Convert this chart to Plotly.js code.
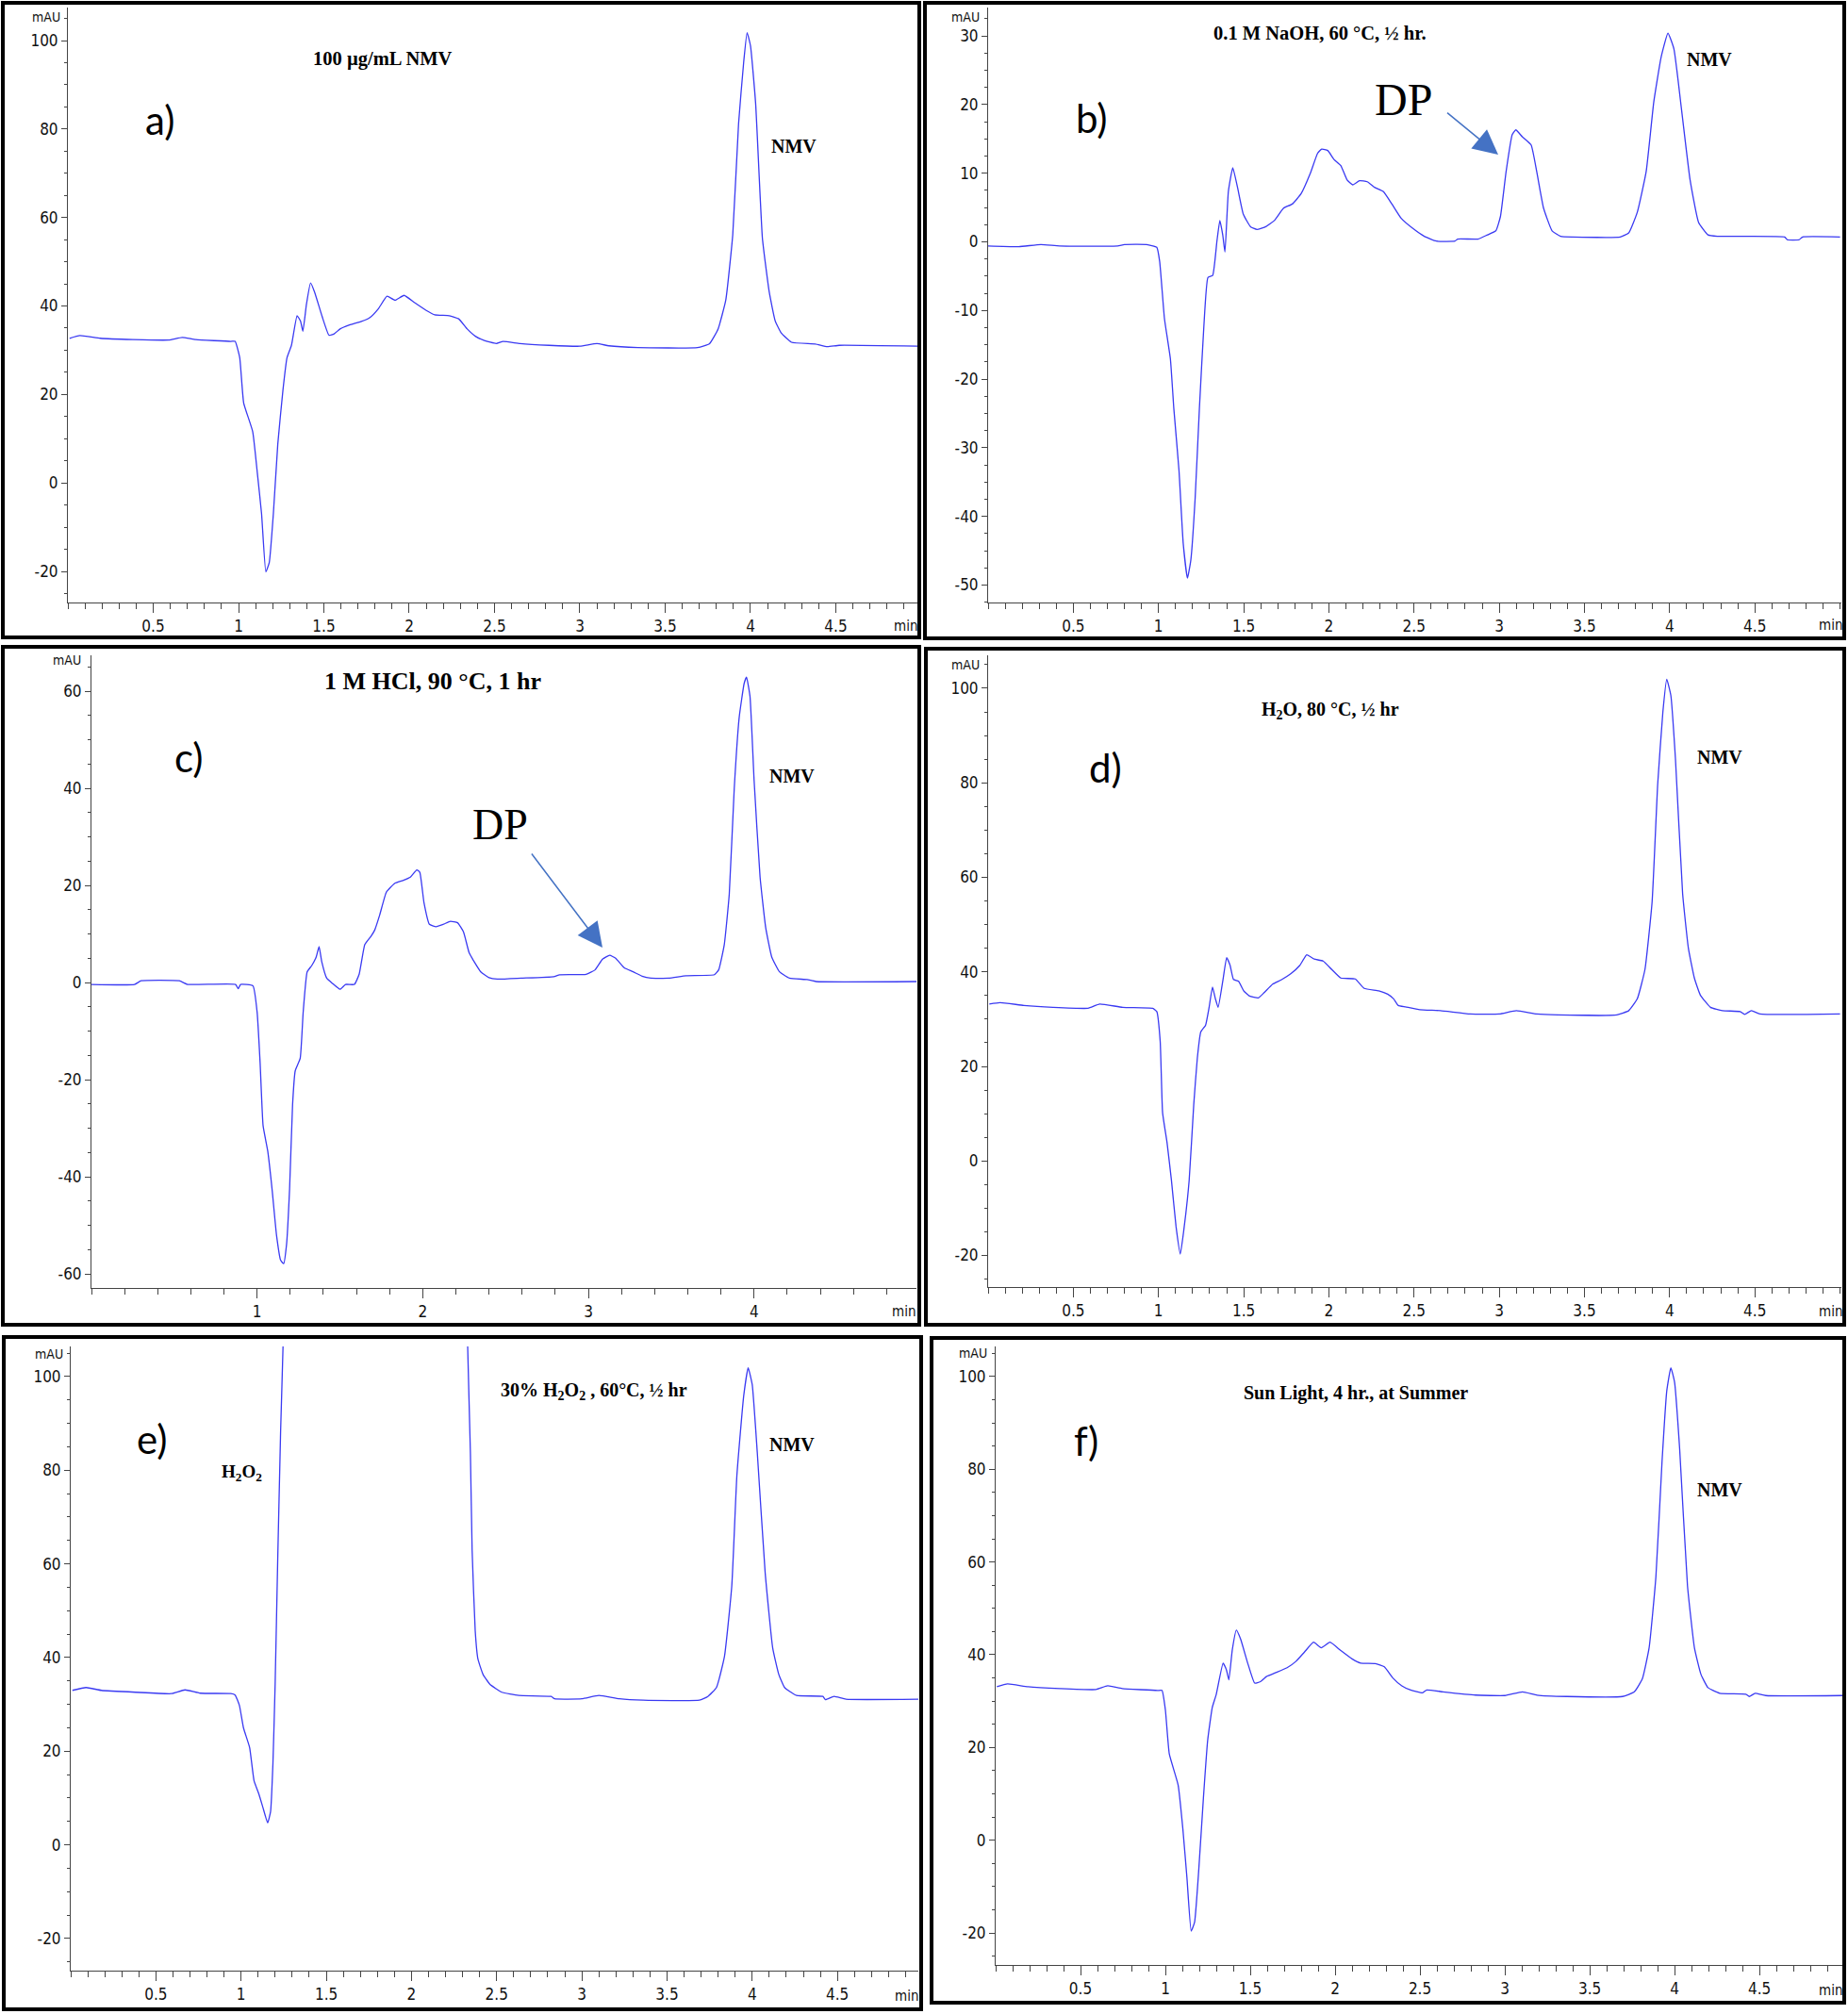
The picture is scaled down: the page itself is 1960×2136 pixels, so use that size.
<!DOCTYPE html>
<html><head><meta charset="utf-8">
<script src="https://cdn.plot.ly/plotly-3.0.1.min.js"></script>
<style>html,body{margin:0;padding:0;background:#fff}</style>
</head><body>
<div id="chart" style="width:1960px;height:2136px"></div>
<script>
// ---------------- data (retention time in min, signal in mAU) ----------------
const aTime = [0.01,0.07,0.19,0.38,0.59,0.67,0.75,0.955,0.98,1.007,
  1.03,1.083,1.11,1.135,1.16,1.18,1.204,1.23,1.26,1.284,
  1.31,1.343,1.363,1.377,1.398,1.422,1.446,1.49,1.53,1.56,
  1.595,1.65,1.72,1.77,1.82,1.87,1.917,1.97,2.03,2.10,
  2.15,2.235,2.29,2.34,2.39,2.44,2.51,2.55,2.65,2.82,
  3.0,3.10,3.17,3.34,3.69,3.76,3.81,3.855,3.896,3.93,
  3.96,3.98,4.0,4.03,4.07,4.11,4.145,4.18,4.24,4.38,
  4.45,4.52,4.98];
const aSignal = [32.7,33.3,32.7,32.4,32.3,32.9,32.4,32.0,32.0,28.3,
  18.1,11.6,2.3,-7,-20.1,-18,-7,8.8,20.9,28.3,
  31.1,37.8,36.6,34.3,40.4,45.2,43.1,37.6,33.4,33.7,
  34.8,35.7,36.5,37.4,39.4,42.2,41.3,42.4,40.8,39.0,
  38.0,37.8,37.1,34.8,33.1,32.2,31.5,32.0,31.5,31.1,
  30.9,31.5,31.0,30.6,30.6,31.5,34.8,41.3,56.1,81.2,
  95.1,101.8,98.8,85.8,55.2,43.1,36.6,33.9,31.8,31.4,
  30.8,31.1,30.9];

const bTime = [0.0,0.18,0.31,0.42,0.76,0.8,0.93,0.99,1.007,1.035,
  1.07,1.09,1.12,1.145,1.17,1.19,1.215,1.24,1.266,1.29,
  1.318,1.343,1.36,1.377,1.39,1.41,1.436,1.464,1.498,1.54,
  1.578,1.63,1.68,1.734,1.785,1.837,1.89,1.934,1.958,1.993,
  2.03,2.07,2.107,2.14,2.18,2.225,2.27,2.32,2.37,2.425,
  2.495,2.56,2.63,2.74,2.755,2.875,2.93,2.98,3.007,3.04,
  3.076,3.097,3.135,3.187,3.22,3.26,3.31,3.36,3.43,3.71,
  3.76,3.81,3.862,3.907,3.95,3.99,4.025,4.07,4.12,4.17,
  4.225,4.28,4.675,4.69,4.76,4.78,5.0];
const bSignal = [-0.6,-0.7,-0.4,-0.6,-0.6,-0.4,-0.4,-0.8,-2.9,-11.2,
  -17.1,-24.3,-33.2,-43.9,-49,-46.3,-37.4,-24.3,-12.4,-5.2,
  -4.9,0.1,3.1,1.0,-1.5,7.3,10.8,7.9,4.0,2.2,
  1.8,2.2,3.1,4.9,5.5,7.0,9.9,12.9,13.5,13.3,
  12.0,11.1,9.0,8.3,8.9,8.75,7.9,7.3,5.5,3.4,
  1.9,0.8,0.1,0.1,0.4,0.4,1.0,1.6,3.7,10.2,
  15.6,16.3,15.3,14.1,10.2,4.9,1.6,0.8,0.7,0.7,
  1.3,4.3,10.2,20.4,26.9,30.4,28.1,19.2,9.0,2.8,
  1.0,0.8,0.7,0.3,0.3,0.7,0.7];

const cTime = [0.0,0.26,0.3,0.53,0.58,0.87,0.886,0.9,0.975,1.0,
  1.018,1.036,1.064,1.09,1.117,1.142,1.16,1.178,1.196,1.214,
  1.23,1.26,1.278,1.302,1.33,1.356,1.374,1.39,1.42,1.455,
  1.5,1.534,1.587,1.616,1.65,1.687,1.71,1.74,1.78,1.83,
  1.88,1.925,1.964,1.982,2.007,2.04,2.08,2.125,2.167,2.21,
  2.246,2.28,2.31,2.35,2.4,2.45,2.594,2.79,2.826,2.986,
  3.04,3.085,3.128,3.164,3.217,3.27,3.324,3.377,3.484,3.59,
  3.76,3.786,3.82,3.85,3.88,3.91,3.94,3.954,3.975,4.0,
  4.036,4.07,4.107,4.153,4.213,4.32,4.374,4.98];
const cSignal = [-0.4,-0.4,0.35,0.35,-0.4,-0.4,-1.3,-0.4,-0.7,-6.1,
  -16.5,-29.5,-34.7,-42.5,-52,-57.2,-57.9,-53.8,-42.5,-25.2,
  -18.2,-15.6,-6.1,2.2,3.5,5.2,7.4,4.3,0.9,-0.2,
  -1.4,-0.4,-0.4,1.7,7.8,9.5,10.8,13.9,18.6,20.4,
  21.0,21.7,23.2,22.7,16.5,12.0,11.5,12.0,12.6,12.3,
  10.4,6.1,4.3,2.2,1.0,0.7,0.9,1.2,1.6,1.7,
  2.6,4.8,5.6,5.0,3.0,2.2,1.3,0.9,0.9,1.4,
  1.6,2.6,7.8,18.2,39.9,54.6,61.6,62.9,59.0,41.6,
  21.7,11.3,5.2,2.2,0.9,0.6,0.2,0.2];

const dTime = [0.007,0.07,0.21,0.38,0.586,0.655,0.79,0.966,0.99,1.01,
  1.024,1.05,1.076,1.103,1.128,1.148,1.18,1.207,1.228,1.248,
  1.276,1.297,1.317,1.334,1.35,1.38,1.4,1.42,1.44,1.47,
  1.5,1.534,1.586,1.62,1.67,1.72,1.776,1.83,1.87,1.914,
  1.966,2.017,2.07,2.155,2.207,2.293,2.345,2.38,2.407,2.45,
  2.534,2.655,2.83,3.0,3.1,3.22,3.345,3.69,3.76,3.81,
  3.855,3.897,3.93,3.96,3.983,4.007,4.034,4.076,4.11,4.145,
  4.18,4.24,4.31,4.414,4.44,4.48,4.53,5.0];
const dSignal = [33.2,33.5,32.9,32.5,32.3,33.2,32.5,32.3,31.6,25.3,
  10.2,3.9,-4.1,-13.9,-19.7,-14.8,-4.1,12.0,21.8,27.3,
  28.7,32.5,36.8,34.3,32.5,38.7,43.0,41.4,38.4,38.0,
  36.0,34.9,34.5,35.6,37.4,38.3,39.6,41.4,43.6,42.7,
  42.3,40.5,38.7,38.5,36.5,36.0,35.3,34.3,32.9,32.6,
  32.0,31.8,31.1,31.1,31.8,31.1,30.9,30.9,31.8,34.3,
  40.5,54.8,79.8,94.9,101.9,98.5,85.1,56.6,45.0,38.7,
  35.1,32.5,31.8,31.6,31.0,31.8,31.1,31.1];

// the H2O2 peak runs off the top of the scale (apex not readable)
const eTime = [0.01,0.09,0.18,0.38,0.59,0.67,0.76,0.94,0.965,0.99,
  1.014,1.05,1.076,1.104,1.128,1.156,1.173,1.187,1.2,1.215,
  1.232,1.246,1.27,2.31,2.33,2.346,2.356,2.374,2.39,2.42,
  2.46,2.53,2.63,2.82,2.84,3.0,3.1,3.22,3.36,3.69,
  3.74,3.79,3.837,3.88,3.91,3.95,3.976,4.0,4.03,4.076,
  4.12,4.156,4.19,4.26,4.415,4.43,4.48,4.55,4.975];
const eSignal = [33.0,33.6,33.0,32.6,32.3,33.1,32.4,32.3,32.0,29.8,
  25.0,20.8,13.7,10.9,8.0,4.7,7.1,17.5,34.5,61,
  88.4,106.3,160,160,106.3,83.6,62.9,45.8,39.7,36.4,
  34.3,32.6,31.9,31.7,31.2,31.2,31.9,31.2,30.9,30.9,
  31.7,33.6,40.2,55.3,78.9,95.9,101.9,98.3,83.6,58.1,
  42.1,36.4,33.6,31.9,31.7,31.0,31.7,31.1,31.1];

const fTime = [0.007,0.07,0.19,0.38,0.59,0.66,0.746,0.954,0.98,1.0,
  1.023,1.075,1.103,1.127,1.152,1.172,1.197,1.224,1.249,1.276,
  1.3,1.34,1.36,1.374,1.394,1.418,1.443,1.485,1.526,1.56,
  1.595,1.648,1.717,1.77,1.82,1.873,1.918,1.97,2.03,2.1,
  2.15,2.237,2.29,2.34,2.393,2.445,2.515,2.54,2.636,2.827,
  3.0,3.104,3.19,3.365,3.694,3.763,3.81,3.85,3.89,3.926,
  3.954,3.978,4.0,4.03,4.076,4.117,4.155,4.197,4.266,4.42,
  4.44,4.475,4.537,4.99];
const fSignal = [33.1,33.7,33.1,32.7,32.5,33.3,32.7,32.3,32.3,28.1,
  18.6,11.9,2.4,-8.1,-19.6,-17.7,-6.2,9.1,21.5,28.6,
  31.5,38.2,36.7,34.6,41.0,45.3,43.4,38.2,33.9,34.2,
  35.3,36.1,37.2,38.6,40.6,42.7,41.5,42.7,41.0,39.1,
  38.2,38.1,37.4,35.0,33.3,32.4,31.8,32.4,32.0,31.3,
  31.2,32.0,31.3,31.0,31.0,32.0,34.8,41.5,56.8,81.6,
  96.9,101.9,98.8,84.4,54.9,41.5,35.8,32.9,31.7,31.5,
  31.0,31.7,31.2,31.2];

// tick labels
const xTicksHalf = [0.5,1,1.5,2,2.5,3,3.5,4,4.5];
const xLabelsHalf = ['0.5','1','1.5','2','2.5','3','3.5','4','4.5'];
const xTicksWhole = [1,2,3,4];
const xLabelsWhole = ['1','2','3','4'];
const yTicks100 = [-20,0,20,40,60,80,100];
const yTicksB = [-50,-40,-30,-20,-10,0,10,20,30];
const yTicksC = [-60,-40,-20,0,20,40,60];

// text
const panelLetters = ['a)','b)','c)','d)','e)','f)'];
const conditionLabels = ['100 µg/mL NMV','0.1 M NaOH, 60 °C, ½ hr.','1 M HCl, 90 °C, 1 hr',
  'H<sub>2</sub>O, 80 °C, ½ hr','30% H<sub>2</sub>O<sub>2</sub> , 60°C, ½ hr','Sun Light, 4 hr., at Summer'];
const peakLabel = 'NMV';
const degradantLabel = 'DP';
const oxidantLabel = 'H<sub>2</sub>O<sub>2</sub>';
const yUnit = 'mAU';
const xUnit = 'min';

// ---------------- layout helpers (pixel -> paper) ----------------
const W = 1960, H = 2136;
const px = v => v / W;
const py = v => 1 - v / H;
const NARROW = '"Liberation Sans Narrow", "DejaVu Sans Condensed", "Arial Narrow", sans-serif';
const SERIF = '"Liberation Serif", "Times New Roman", serif';
const LETTER = 'Lato, "Open Sans", sans-serif';
const LINE = '#3a3af2';
const AX = '#444';

const panels = [
  {t:aTime, s:aSignal, ax:[72,973], ay:[8,639], xr:[0,4.978], yr:[-27.03,107.46], yt:yTicks100, ym:5,
   xt:xTicksHalf, xl:xLabelsHalf, xm:0.1, frame:[3,3,975,676], letter:[169,127], cond:[406,63,20.5],
   nmv:[842,155], minLbl:[975,664], mau:[66,18]},
  {t:bTime, s:bSignal, ax:[1048,1953], ay:[8,639], xr:[0,5.008], yr:[-52.54,34.12], yt:yTicksB, ym:2.5,
   xt:xTicksHalf, xl:xLabelsHalf, xm:0.1, frame:[981,3,1956,677], letter:[1158,125], cond:[1400,35,20.5],
   nmv:[1813,63], minLbl:[1956,663], mau:[1041,18]},
  {t:cTime, s:cSignal, ax:[97,972], ay:[695,1366], xr:[0,4.98], yr:[-62.91,67.38], yt:yTicksC, ym:5,
   xt:xTicksWhole, xl:xLabelsWhole, xm:0.2, frame:[3,686,975,1405], letter:[200,803], cond:[459,722,26],
   nmv:[840,823], minLbl:[973,1391], mau:[88,700]},
  {t:dTime, s:dSignal, ax:[1048,1953], ay:[695,1365], xr:[0,5.008], yr:[-26.68,106.98], yt:yTicks100, ym:5,
   xt:xTicksHalf, xl:xLabelsHalf, xm:0.1, frame:[982,688,1956,1405], letter:[1172,814], cond:[1411,754,20],
   nmv:[1824,803], minLbl:[1956,1391], mau:[1041,705]},
  {t:eTime, s:eSignal, ax:[75,974], ay:[1428,2090], xr:[0,4.975], yr:[-26.85,106.44], yt:yTicks100, ym:5,
   xt:xTicksHalf, xl:xLabelsHalf, xm:0.1, frame:[4,1418,977,2131], letter:[161,1526], cond:[630,1475,20],
   nmv:[840,1532], minLbl:[976,2117], mau:[69,1436]},
  {t:fTime, s:fSignal, ax:[1056,1955], ay:[1428,2084], xr:[0,4.994], yr:[-26.91,106.5], yt:yTicks100, ym:5,
   xt:xTicksHalf, xl:xLabelsHalf, xm:0.1, frame:[988,1419,1956,2124], letter:[1152,1528], cond:[1438,1477,20],
   nmv:[1824,1580], minLbl:[1956,2111], mau:[1049,1435]}
];

const traces = [], shapes = [], annotations = [];
const layout = {
  width: W, height: H, margin: {l:0, r:0, t:0, b:0},
  paper_bgcolor: '#fff', plot_bgcolor: '#fff', showlegend: false,
  font: {family: NARROW, color: '#111'}
};

const ann = (x, y, text, font, extra) => annotations.push(Object.assign({
  xref: 'paper', yref: 'paper', x: px(x), y: py(y), text: text, showarrow: false,
  xanchor: 'center', yanchor: 'middle', font: font
}, extra || {}));

panels.forEach((p, i) => {
  const n = i === 0 ? '' : String(i + 1);
  traces.push({
    x: p.t, y: p.s, xaxis: 'x' + n, yaxis: 'y' + n, type: 'scatter', mode: 'lines',
    line: {color: LINE, width: 1.3, shape: 'spline', smoothing: 0.4}, hoverinfo: 'skip'
  });
  layout['xaxis' + n] = {
    domain: [px(p.ax[0]), px(p.ax[1])], range: p.xr, anchor: 'y' + n,
    showline: true, linecolor: AX, linewidth: 1, showgrid: false, zeroline: false,
    ticks: 'outside', ticklen: 10, tickwidth: 1, tickcolor: AX,
    tickmode: 'array', tickvals: p.xt, ticktext: p.xl,
    tickfont: {family: NARROW, size: 17, color: '#111'},
    minor: {tickmode: 'linear', tick0: 0, dtick: p.xm, ticks: 'outside', ticklen: 6, tickwidth: 1, tickcolor: AX},
    fixedrange: true
  };
  layout['yaxis' + n] = {
    domain: [py(p.ay[1]), py(p.ay[0])], range: p.yr, anchor: 'x' + n,
    showline: true, linecolor: AX, linewidth: 1, showgrid: false, zeroline: false,
    ticks: 'outside', ticklen: 6, tickwidth: 1, tickcolor: AX,
    tickmode: 'array', tickvals: p.yt, ticktext: p.yt.map(String),
    tickfont: {family: NARROW, size: 17, color: '#111'},
    minor: {tickmode: 'linear', tick0: 0, dtick: p.ym, ticks: 'outside', ticklen: 3, tickwidth: 1, tickcolor: AX},
    fixedrange: true
  };
  // panel frame
  shapes.push({type: 'rect', xref: 'paper', yref: 'paper',
    x0: px(p.frame[0]), x1: px(p.frame[2]), y0: py(p.frame[3]), y1: py(p.frame[1]),
    line: {color: '#000', width: 4}, fillcolor: 'rgba(0,0,0,0)'});
  ann(p.letter[0], p.letter[1], panelLetters[i], {family: LETTER, size: 42, color: '#000'});
  ann(p.cond[0], p.cond[1], '<b>' + conditionLabels[i] + '</b>', {family: SERIF, size: p.cond[2], color: '#000'});
  ann(p.nmv[0], p.nmv[1], '<b>' + peakLabel + '</b>', {family: SERIF, size: 20, color: '#000'});
  ann(p.mau[0], p.mau[1], yUnit, {family: NARROW, size: 14, color: '#111'}, {xanchor: 'right'});
  ann(p.minLbl[0], p.minLbl[1], xUnit, {family: NARROW, size: 15, color: '#111'}, {xanchor: 'right'});
});

// degradation product markers and H2O2 label
const arrowAnn = (tipX, tipY, tailX, tailY) => annotations.push({
  xref: 'paper', yref: 'paper', x: px(tipX), y: py(tipY), text: ' ', showarrow: true,
  ax: tailX - tipX, ay: tailY - tipY, arrowcolor: '#4472C4', arrowwidth: 1.5, arrowhead: 2, arrowsize: 3.5,
  font: {size: 2}
});
ann(1488, 106, degradantLabel, {family: SERIF, size: 48, color: '#000'});
arrowAnn(1589, 164, 1533, 118);
ann(530, 874, degradantLabel, {family: SERIF, size: 46, color: '#000'});
arrowAnn(639, 1005, 562, 903);
ann(256, 1562, '<b>' + oxidantLabel + '</b>', {family: SERIF, size: 19, color: '#000'});

layout.shapes = shapes;
layout.annotations = annotations;

Plotly.newPlot('chart', traces, layout, {staticPlot: true, displayModeBar: false});
</script>
</body></html>
